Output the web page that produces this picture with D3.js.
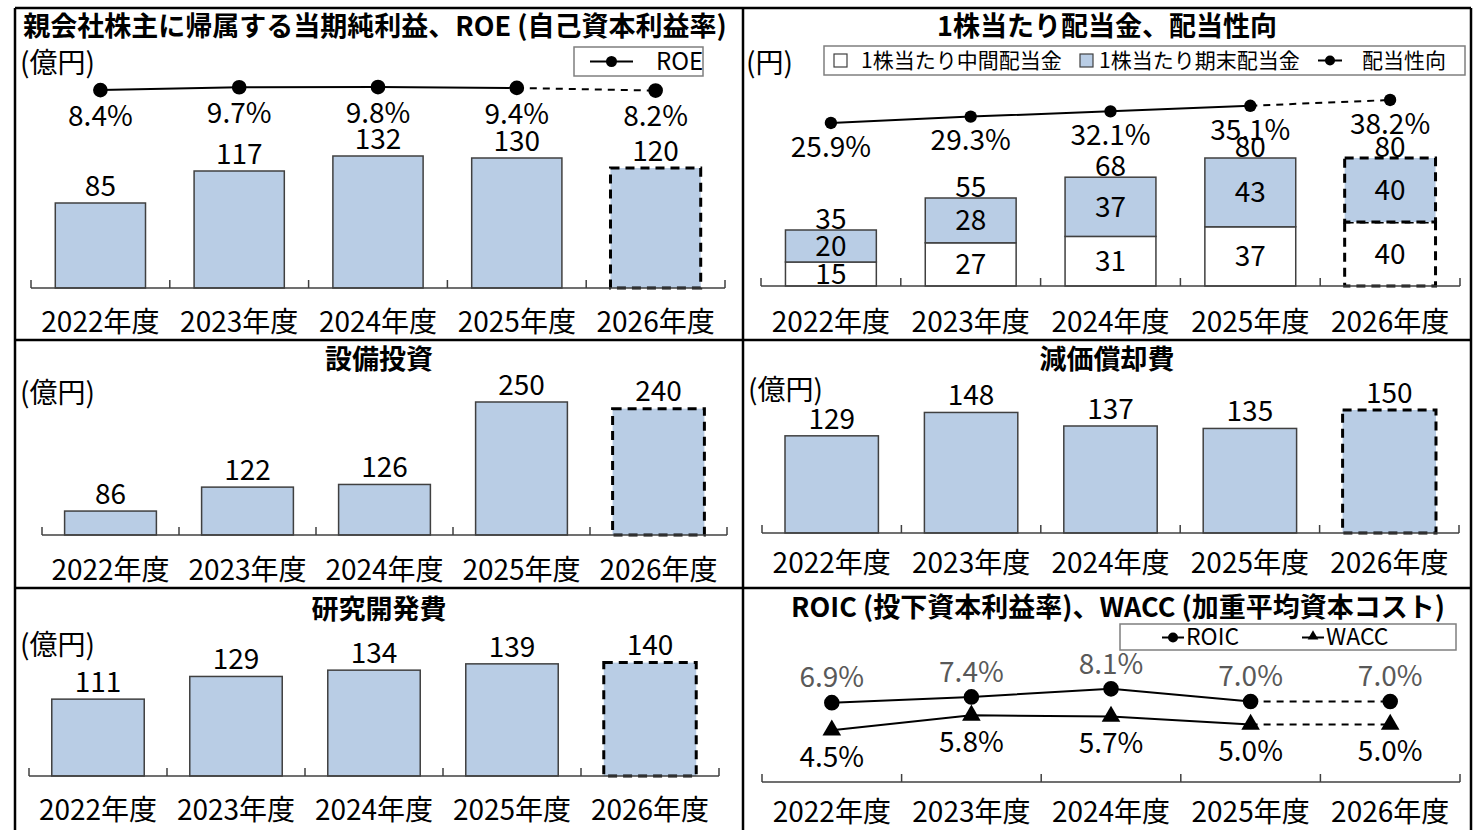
<!DOCTYPE html>
<html>
<head>
<meta charset="utf-8">
<script src="https://cdn.jsdelivr.net/npm/d3@7"></script>
<style>
  body { margin: 0; background: #fff; }
  text { font-family: "Noto Sans CJK JP", sans-serif; fill: #000; }
</style>
</head>
<body>
<svg id="chart" width="1481" height="830"></svg>
<script>
// data
const years = ['2022年度', '2023年度', '2024年度', '2025年度', '2026年度']
const netIncome = [85, 117, 132, 130, 120]
const roe = [8.4, 9.7, 9.8, 9.4, 8.2]
const dpsInterim = [15, 27, 31, 37, 40]
const dpsYearEnd = [20, 28, 37, 43, 40]
const payoutRatio = [25.9, 29.3, 32.1, 35.1, 38.2]
const capex = [86, 122, 126, 250, 240]
const depreciation = [129, 148, 137, 135, 150]
const rnd = [111, 129, 134, 139, 140]
const roic = [6.9, 7.4, 8.1, 7.0, 7.0]
const wacc = [4.5, 5.8, 5.7, 5.0, 5.0]
const forecastYear = '2026年度'

const barFill = '#b9cde5'
const barStroke = '#404040'
const dashPattern = '9,6'
const fontSize = 28

const svg = d3.select('#chart')

// table-like frame
const frame = svg.append('g').attr('stroke', '#000').attr('stroke-width', 2.5)
;[[15, 8, 1471, 8], [15, 340, 1471, 340], [15, 588, 1471, 588],
  [15, 8, 15, 830], [743, 8, 743, 830], [1471, 8, 1471, 830]].forEach(l => {
  frame.append('line').attr('x1', l[0]).attr('y1', l[1]).attr('x2', l[2]).attr('y2', l[3])
})

let isForecast = (d) => d === forecastYear

let title = (txt, cx, cy) => {
  svg.append('text').attr('x', cx).attr('y', cy).attr('dy', '.35em')
    .attr('text-anchor', 'middle').attr('font-size', 27).attr('font-weight', 'bold')
    .text(txt)
}

let unitLabel = (txt, x, cy) => {
  svg.append('text').attr('x', x).attr('y', cy).attr('dy', '.35em')
    .attr('font-size', fontSize).text(txt)
}

// category axis with ticks on band boundaries, pointing up
let catAxis = (x, axisY, labelY) => {
  const g = svg.append('g').attr('transform', 'translate(0,' + axisY + ')')
    .call(d3.axisBottom(x).tickSize(0))
  g.select('.domain').remove()
  g.selectAll('text').attr('y', labelY - axisY).attr('dy', '.35em')
    .attr('font-size', fontSize).attr('font-family', '"Noto Sans CJK JP", sans-serif')
  const r = x.range()
  const b = d3.range(years.length + 1).map(i => r[0] + i * x.step())
  g.append('line').attr('x1', r[0]).attr('x2', r[1]).attr('stroke', barStroke).attr('stroke-width', 1.5)
  g.selectAll('.bt').data(b).enter().append('line')
    .attr('x1', d => d).attr('x2', d => d).attr('y1', 0).attr('y2', -8)
    .attr('stroke', barStroke).attr('stroke-width', 1.5)
}

let drawBars = (x, y, values) => {
  svg.append('g').selectAll('rect').data(values).enter().append('rect')
    .attr('x', (d, i) => x(years[i]))
    .attr('y', d => y(d))
    .attr('width', x.bandwidth())
    .attr('height', d => y(y.domain()[0]) - y(d))
    .attr('fill', barFill)
    .attr('stroke', (d, i) => isForecast(years[i]) ? '#000' : barStroke)
    .attr('stroke-width', (d, i) => isForecast(years[i]) ? 3 : 1.5)
    .attr('stroke-dasharray', (d, i) => isForecast(years[i]) ? dashPattern : null)

  svg.append('g').selectAll('text').data(values).enter().append('text')
    .attr('x', (d, i) => x(years[i]) + x.bandwidth() / 2)
    .attr('y', d => y(d) - 17)
    .attr('dy', '.35em').attr('text-anchor', 'middle').attr('font-size', fontSize)
    .text(d => d)
}

// line with a dashed forecast segment
let drawLine = (x, y, values, marker, r) => {
  const pts = values.map((v, i) => [x(years[i]) + x.bandwidth() / 2, y(v)])
  const line = d3.line()
  svg.append('path').attr('d', line(pts.slice(0, pts.length - 1)))
    .attr('fill', 'none').attr('stroke', '#000').attr('stroke-width', 2)
  svg.append('path').attr('d', line(pts.slice(pts.length - 2)))
    .attr('fill', 'none').attr('stroke', '#000').attr('stroke-width', 2).attr('stroke-dasharray', '7,6')
  const sym = d3.symbol().type(marker).size(r)
  svg.append('g').selectAll('path').data(pts).enter().append('path')
    .attr('transform', d => 'translate(' + d[0] + ',' + d[1] + ')')
    .attr('d', sym).attr('fill', '#000')
  return pts
}

let pctLabels = (pts, values, dy, color) => {
  svg.append('g').selectAll('text').data(values).enter().append('text')
    .attr('x', (d, i) => pts[i][0]).attr('y', (d, i) => pts[i][1] + dy)
    .attr('dy', '.35em').attr('text-anchor', 'middle').attr('font-size', fontSize)
    .style('fill', color || '#000')
    .text(d => d.toFixed(1) + '%')
}

// ---- 親会社株主に帰属する当期純利益、ROE
{
  title('親会社株主に帰属する当期純利益、ROE (自己資本利益率)', 375, 27)
  unitLabel('(億円)', 20, 63)
  const x = d3.scaleBand().domain(years).range([31, 725]).paddingInner(0.35).paddingOuter(0.175)
  const y = d3.scaleLinear().domain([0, 100]).range([288, 188])
  drawBars(x, y, netIncome)
  catAxis(x, 288, 322)
  const yr = d3.scaleLinear().domain([8, 10]).range([91, 86.6])
  const pts = drawLine(x, yr, roe, d3.symbolCircle, 170)
  pctLabels(pts, roe, 26)

  const lg = svg.append('g')
  lg.append('rect').attr('x', 574).attr('y', 47).attr('width', 129).attr('height', 29)
    .attr('fill', '#fff').attr('stroke', '#7f7f7f').attr('stroke-width', 1.5)
  lg.append('line').attr('x1', 590).attr('x2', 633).attr('y1', 61.5).attr('y2', 61.5).attr('stroke', '#000').attr('stroke-width', 2)
  lg.append('circle').attr('cx', 611.5).attr('cy', 61.5).attr('r', 5.5)
  lg.append('text').attr('x', 656).attr('y', 61.5).attr('dy', '.35em').attr('font-size', 24).text('ROE')
}

// ---- 1株当たり配当金、配当性向
{
  title('1株当たり配当金、配当性向', 1107, 27)
  unitLabel('(円)', 746, 63)
  const x = d3.scaleBand().domain(years).range([761, 1460]).paddingInner(0.35).paddingOuter(0.175)
  const y = d3.scaleLinear().domain([0, 50]).range([286, 206])
  const stack = d3.stack().keys(['interim', 'yearEnd'])(years.map((c, i) => ({ cat: c, interim: dpsInterim[i], yearEnd: dpsYearEnd[i] })))
  const fills = { interim: '#fff', yearEnd: barFill }
  stack.forEach(layer => {
    svg.append('g').selectAll('rect').data(layer).enter().append('rect')
      .attr('x', d => x(d.data.cat)).attr('width', x.bandwidth())
      .attr('y', d => y(d[1])).attr('height', d => y(d[0]) - y(d[1]))
      .attr('fill', fills[layer.key])
      .attr('stroke', d => isForecast(d.data.cat) ? '#000' : barStroke)
      .attr('stroke-width', d => isForecast(d.data.cat) ? 3 : 1.5)
      .attr('stroke-dasharray', d => isForecast(d.data.cat) ? dashPattern : null)
    svg.append('g').selectAll('text').data(layer).enter().append('text')
      .attr('x', d => x(d.data.cat) + x.bandwidth() / 2).attr('y', d => (y(d[0]) + y(d[1])) / 2)
      .attr('dy', '.35em').attr('text-anchor', 'middle').attr('font-size', fontSize)
      .text(d => d.data[layer.key])
  })
  const top = stack[stack.length - 1]
  svg.append('g').selectAll('text').data(top).enter().append('text')
    .attr('x', d => x(d.data.cat) + x.bandwidth() / 2).attr('y', d => y(d[1]) - 11)
    .attr('dy', '.35em').attr('text-anchor', 'middle').attr('font-size', fontSize)
    .text(d => d[1])
  catAxis(x, 286, 322)
  const yr = d3.scaleLinear().domain([20, 40]).range([134, 96.6])
  const pts = drawLine(x, yr, payoutRatio, d3.symbolCircle, 120)
  pctLabels(pts, payoutRatio, 24)

  const lg = svg.append('g')
  lg.append('rect').attr('x', 824).attr('y', 46).attr('width', 641).attr('height', 29)
    .attr('fill', '#fff').attr('stroke', '#7f7f7f').attr('stroke-width', 1.5)
  lg.append('rect').attr('x', 834).attr('y', 54).attr('width', 13).attr('height', 13)
    .attr('fill', '#fff').attr('stroke', barStroke).attr('stroke-width', 1.2)
  lg.append('text').attr('x', 861).attr('y', 60.5).attr('dy', '.35em').attr('font-size', 21).text('1株当たり中間配当金')
  lg.append('rect').attr('x', 1080).attr('y', 54).attr('width', 13).attr('height', 13)
    .attr('fill', barFill).attr('stroke', barStroke).attr('stroke-width', 1.2)
  lg.append('text').attr('x', 1099).attr('y', 60.5).attr('dy', '.35em').attr('font-size', 21).text('1株当たり期末配当金')
  lg.append('line').attr('x1', 1318).attr('x2', 1342).attr('y1', 60.5).attr('y2', 60.5).attr('stroke', '#000').attr('stroke-width', 2)
  lg.append('circle').attr('cx', 1330).attr('cy', 60.5).attr('r', 5)
  lg.append('text').attr('x', 1362).attr('y', 60.5).attr('dy', '.35em').attr('font-size', 21).text('配当性向')
}

// ---- 設備投資
{
  title('設備投資', 379, 360)
  unitLabel('(億円)', 20, 393)
  const x = d3.scaleBand().domain(years).range([42, 727]).paddingInner(0.33).paddingOuter(0.165)
  const y = d3.scaleLinear().domain([50, 250]).range([535, 402])
  drawBars(x, y, capex)
  catAxis(x, 535, 570)
}

// ---- 減価償却費
{
  title('減価償却費', 1107, 360)
  unitLabel('(億円)', 748, 390)
  const x = d3.scaleBand().domain(years).range([762, 1459]).paddingInner(0.33).paddingOuter(0.165)
  const y = d3.scaleLinear().domain([50, 150]).range([533, 410])
  drawBars(x, y, depreciation)
  catAxis(x, 533, 563)
}

// ---- 研究開発費
{
  title('研究開発費', 379, 610)
  unitLabel('(億円)', 20, 645)
  const x = d3.scaleBand().domain(years).range([29, 719]).paddingInner(0.33).paddingOuter(0.165)
  const y = d3.scaleLinear().domain([50, 150]).range([776, 650])
  drawBars(x, y, rnd)
  catAxis(x, 776, 810)
}

// ---- ROIC、WACC
{
  title('ROIC (投下資本利益率)、WACC (加重平均資本コスト)', 1118, 608)
  const x = d3.scaleBand().domain(years).range([762, 1460]).paddingInner(0.35).paddingOuter(0.175)
  const y = d3.scaleLinear().domain([0, 10]).range([782, 667])
  catAxis(x, 782, 812)
  const pRoic = drawLine(x, y, roic, d3.symbolCircle, 190)
  const pWacc = drawLine(x, y, wacc, d3.symbolTriangle, 150)
  pctLabels(pRoic, roic, -25, '#595959')
  pctLabels(pWacc, wacc, 27)

  const lg = svg.append('g')
  lg.append('rect').attr('x', 1120).attr('y', 624).attr('width', 336).attr('height', 26)
    .attr('fill', '#fff').attr('stroke', '#7f7f7f').attr('stroke-width', 1.5)
  lg.append('line').attr('x1', 1162).attr('x2', 1184).attr('y1', 637.5).attr('y2', 637.5).attr('stroke', '#000').attr('stroke-width', 2)
  lg.append('circle').attr('cx', 1173).attr('cy', 637.5).attr('r', 5)
  lg.append('text').attr('x', 1186).attr('y', 637).attr('dy', '.35em').attr('font-size', 23).text('ROIC')
  lg.append('line').attr('x1', 1302).attr('x2', 1324).attr('y1', 637.5).attr('y2', 637.5).attr('stroke', '#000').attr('stroke-width', 2)
  lg.append('path').attr('transform', 'translate(1313,636.5)').attr('d', d3.symbol().type(d3.symbolTriangle).size(50))
  lg.append('text').attr('x', 1326).attr('y', 637).attr('dy', '.35em').attr('font-size', 23).text('WACC')
}
</script>
</body>
</html>
